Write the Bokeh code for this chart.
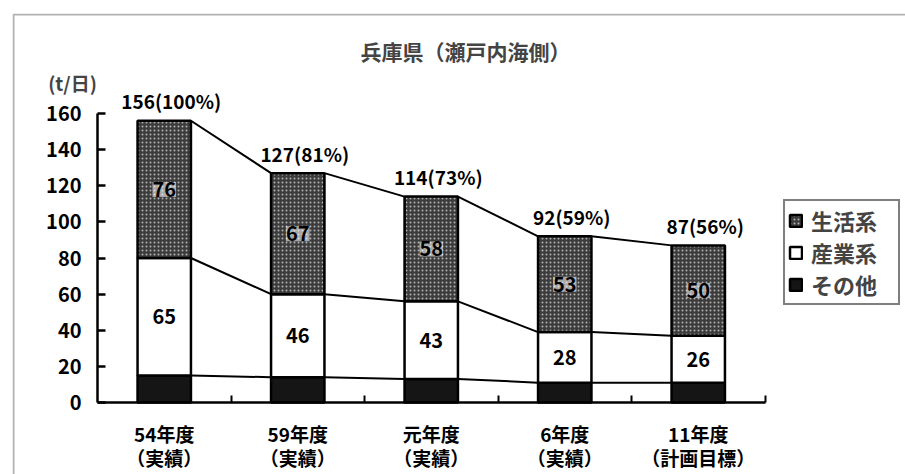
from bokeh.plotting import figure
from bokeh.models import (Range1d, FixedTicker, ColumnDataSource, Label, Legend,
                          LegendItem, BoxAnnotation)
from bokeh.core.properties import value
from bokeh.embed import file_html
from bokeh.resources import INLINE

# ---- data ----
chart_title = "兵庫県（瀬戸内海側）"
unit_label = "(t/日)"
categories = ["54年度\n（実績）", "59年度\n（実績）", "元年度\n（実績）",
              "6年度\n（実績）", "11年度\n（計画目標）"]
other = [15, 14, 13, 11, 11]          # その他
industrial = [65, 46, 43, 28, 26]     # 産業系
domestic = [76, 67, 58, 53, 50]       # 生活系
totals = [156, 127, 114, 92, 87]
percents = [100, 81, 73, 59, 56]
series_names = ["生活系", "産業系", "その他"]
y_ticks = [0, 20, 40, 60, 80, 100, 120, 140, 160]

FONT = "Noto Sans CJK JP"
BAR_W = 0.4
LW = 2.5
PX_X = 133.5   # pixels per category
PX_Y = 1.806   # pixels per t/日
FL, FT = 12, 13  # frame left/top (outer box)

n = len(categories)
xs = [i + 0.5 for i in range(n)]
lvl1 = other
lvl2 = [o + s for o, s in zip(other, industrial)]
lvl3 = [a + d for a, d in zip(lvl2, domestic)]

p = figure(width=905, height=474, output_backend="svg", toolbar_location=None,
           x_range=Range1d(-(97 - FL) / PX_X, (905 - 97) / PX_X),
           y_range=Range1d(-(474 - 402) / PX_Y, (402 - FT) / PX_Y))
p.min_border_left = FL
p.min_border_right = 0
p.min_border_top = FT
p.min_border_bottom = 0
p.outline_line_color = None
p.xgrid.grid_line_color = None
p.ygrid.grid_line_color = None
p.background_fill_color = "white"
p.border_fill_color = "white"

# bars
r_other = p.vbar(x=xs, bottom=0, top=lvl1, width=BAR_W, fill_color="#151515",
                 line_color="black", line_width=LW)
r_ind = p.vbar(x=xs, bottom=lvl1, top=lvl2, width=BAR_W, fill_color="white",
               line_color="black", line_width=LW)
r_dom = p.vbar(x=xs, bottom=lvl2, top=lvl3, width=BAR_W, fill_color="#3c3c3c",
               hatch_pattern="dot", hatch_color="white", hatch_scale=4,
               hatch_weight=1.5, hatch_alpha=0.6,
               line_color="black", line_width=LW)

# connecting lines
for lvl in (lvl1, lvl2, lvl3):
    p.segment(x0=[x + BAR_W / 2 for x in xs[:-1]], y0=lvl[:-1],
              x1=[x - BAR_W / 2 for x in xs[1:]], y1=lvl[1:],
              line_color="black", line_width=2)

# segment value labels
seg_src = ColumnDataSource(dict(
    x=xs + xs,
    y=[(a + b) / 2 for a, b in zip(lvl1, lvl2)] + [(a + b) / 2 for a, b in zip(lvl2, lvl3)],
    t=[str(v) for v in industrial] + [str(v) for v in domestic]))
p.text(x="x", y="y", text="t", source=seg_src, text_font=value(FONT),
       text_font_style="bold", text_font_size="20px", text_align="center",
       text_baseline="middle", text_color="black",
       background_fill_color="white", background_fill_alpha=0.55)

# totals
tot_src = ColumnDataSource(dict(
    x=xs, y=totals, t=[f"{t}({pc}%)" for t, pc in zip(totals, percents)]))
p.text(x="x", y="y", text="t", source=tot_src, text_font=value(FONT),
       text_font_style="bold", text_font_size="19px", text_align="center",
       text_baseline="middle", x_offset=7, y_offset=-20, text_color="black")

# axes (placed at data zero inside the frame)
p.yaxis.fixed_location = 0
p.yaxis.ticker = FixedTicker(ticks=y_ticks, minor_ticks=[])
p.yaxis.bounds = (0, 160)
p.yaxis.axis_line_width = LW
p.yaxis.major_tick_line_width = LW
p.yaxis.major_tick_in = 8
p.yaxis.major_tick_out = 0
p.yaxis.major_label_standoff = 16
p.yaxis.major_label_text_font = FONT
p.yaxis.major_label_text_font_style = "bold"
p.yaxis.major_label_text_font_size = "20px"
p.yaxis.major_label_text_color = "black"

p.xaxis.fixed_location = 0
p.xaxis.ticker = FixedTicker(ticks=xs, minor_ticks=[1, 2, 3, 4, 5])
p.xaxis.bounds = (0, n)
p.xaxis.major_label_overrides = {x: c for x, c in zip(xs, categories)}
p.xaxis.axis_line_width = LW
p.xaxis.major_tick_in = 0
p.xaxis.major_tick_out = 0
p.xaxis.minor_tick_in = 7
p.xaxis.minor_tick_out = 0
p.xaxis.minor_tick_line_width = 2
p.xaxis.major_label_standoff = 17
p.xaxis.major_label_text_font = FONT
p.xaxis.major_label_text_font_style = "bold"
p.xaxis.major_label_text_font_size = "19px"
p.xaxis.major_label_text_line_height = 0.9
p.xaxis.major_label_text_color = "black"

# titles (screen units relative to frame bottom-left)
p.add_layout(Label(x=465 - FL, y=474 - 50, x_units="screen", y_units="screen",
                   text=chart_title, text_font=FONT, text_font_style="bold",
                   text_font_size="21px", text_align="center", text_baseline="middle"))
p.add_layout(Label(x=72 - FL, y=474 - 82, x_units="screen", y_units="screen",
                   text=unit_label, text_font=FONT, text_font_style="bold",
                   text_font_size="19px", text_align="center", text_baseline="middle"))

# outer frame (left and top edges visible)
p.add_layout(BoxAnnotation(left=FL + 1, right=1200, top=FT + 1, bottom=1200,
                           left_units="canvas", right_units="canvas",
                           top_units="canvas", bottom_units="canvas",
                           fill_alpha=0, line_color="black", line_width=2))

# legend
legend = Legend(items=[LegendItem(label=series_names[0], renderers=[r_dom]),
                       LegendItem(label=series_names[1], renderers=[r_ind]),
                       LegendItem(label=series_names[2], renderers=[r_other])],
                location=(783 - FL, 474 - 297 - 8))
legend.border_line_color = "black"
legend.border_line_width = 2
legend.label_text_font = FONT
legend.label_text_font_style = "bold"
legend.label_text_font_size = "22px"
legend.glyph_width = 15
legend.glyph_height = 15
legend.spacing = 0
legend.padding = 3
legend.margin = 0
legend.label_standoff = 8
legend.label_width = 84
legend.background_fill_alpha = 1
p.add_layout(legend)

open("out.html", "w").write(file_html(p, INLINE))
